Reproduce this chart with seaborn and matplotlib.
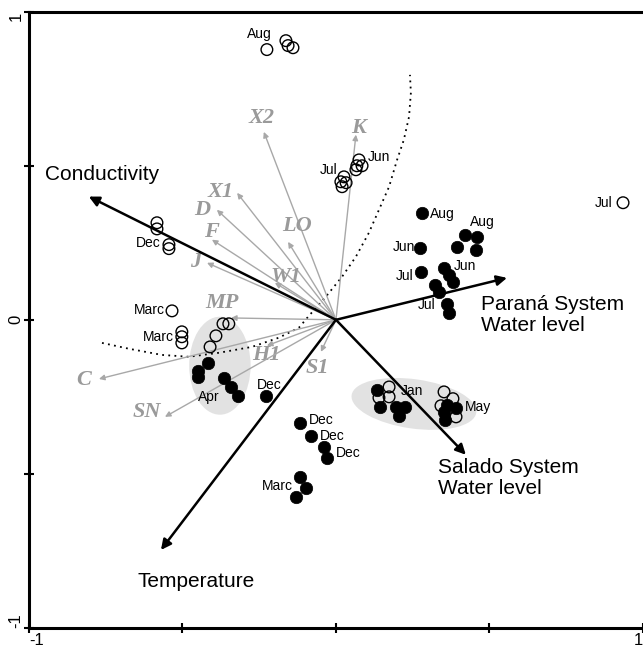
#%%                  Import libraries and prepare data                  ###

import numpy as np
import pandas as pd
import seaborn as sns
import matplotlib.pyplot as plt
from matplotlib.patches import Ellipse

# --- environmental variables (black arrows) ---
env_names = ['Conductivity', 'Paraná System\nWater level', 'Salado System\nWater level', 'Temperature']
env_x = [-0.805, 0.557, 0.423, -0.570]
env_y = [0.400, 0.136, -0.438, -0.747]

# --- species (grey arrows) ---
sp_names = ['X2', 'K', 'X1', 'D', 'F', 'J', 'LO', 'W1', 'MP', 'H1', 'S1', 'C', 'SN']
sp_x = [-0.235, 0.065, -0.322, -0.388, -0.404, -0.420, -0.156, -0.199, -0.342, -0.225, -0.049, -0.772, -0.557]
sp_y = [0.610, 0.601, 0.412, 0.357, 0.260, 0.185, 0.253, 0.120, 0.006, -0.084, -0.104, -0.192, -0.315]

# --- samples: open circles ---
open_x = [-0.225, -0.163, -0.156, -0.140,
          0.075, 0.068, 0.085, 0.065,
          0.026, 0.016, 0.033, 0.020,
          0.935,
          -0.583, -0.583, -0.544, -0.544,
          -0.534, -0.502, -0.502, -0.502,
          -0.368, -0.349, -0.391, -0.410,
          0.173, 0.140, 0.173,
          0.352, 0.381, 0.342, 0.391]
open_y = [0.877, 0.906, 0.890, 0.883,
          0.519, 0.500, 0.500, 0.487,
          0.464, 0.448, 0.445, 0.432,
          0.380,
          0.315, 0.295, 0.244, 0.231,
          0.029, -0.039, -0.055, -0.075,
          -0.013, -0.013, -0.052, -0.088,
          -0.218, -0.253, -0.250,
          -0.234, -0.256, -0.279, -0.315]

# --- samples: filled circles ---
fill_x = [-0.417, -0.450, -0.450, -0.365, -0.342, -0.319,
          -0.228,
          -0.117, -0.081, -0.039, -0.029,
          -0.117, -0.098, -0.130,
          0.134, 0.143, 0.195, 0.225, 0.205,
          0.362, 0.391, 0.352, 0.355,
          0.280, 0.274, 0.277,
          0.420, 0.459, 0.394, 0.456,
          0.352, 0.368, 0.381,
          0.322, 0.336, 0.362, 0.368]
fill_y = [-0.140, -0.166, -0.185, -0.188, -0.218, -0.247,
          -0.247,
          -0.334, -0.377, -0.412, -0.448,
          -0.510, -0.545, -0.575,
          -0.227, -0.282, -0.282, -0.282, -0.312,
          -0.276, -0.286, -0.299, -0.325,
          0.347, 0.234, 0.156,
          0.276, 0.269, 0.237, 0.227,
          0.169, 0.146, 0.123,
          0.114, 0.091, 0.052, 0.023]

# --- month labels ---
month_text = ['Aug', 'Jun', 'Jul', 'Jul', 'Dec', 'Marc', 'Marc', 'Apr', 'Dec',
              'Dec', 'Dec', 'Dec', 'Marc', 'Jan', 'May',
              'Aug', 'Jun', 'Jul', 'Aug', 'Jun', 'Jul']
month_x = [-0.248, 0.140, -0.023, 0.873, -0.612, -0.609, -0.577, -0.414, -0.218,
           -0.049, -0.013, 0.039, -0.192, 0.248, 0.463,
           0.345, 0.221, 0.225, 0.476, 0.420, 0.296]
month_y = [0.929, 0.529, 0.487, 0.380, 0.250, 0.032, -0.055, -0.250, -0.211,
           -0.325, -0.377, -0.432, -0.539, -0.230, -0.282,
           0.344, 0.237, 0.143, 0.318, 0.175, 0.049]

# --- dotted separation curve ---
curve_x = [-0.762, -0.674, -0.567, -0.479, -0.381, -0.274, -0.186, -0.121, -0.088, -0.033,
           0.020, 0.065, 0.107, 0.140, 0.173, 0.199, 0.221, 0.238, 0.244, 0.241]
curve_y = [-0.075, -0.094, -0.114, -0.120, -0.107, -0.088, -0.058, -0.026, 0.013, 0.075,
           0.140, 0.205, 0.282, 0.357, 0.432, 0.519, 0.584, 0.659, 0.737, 0.795]

# label placement (layout only)
env_lab = [(-0.762, 0.471, 'center'), (0.472, 0.016, 'left'), (0.332, -0.513, 'left'), (-0.456, -0.851, 'center')]
sp_lab = [(-0.241, 0.656), (0.075, 0.623), (-0.375, 0.416), (-0.436, 0.357), (-0.407, 0.286),
          (-0.456, 0.188), (-0.127, 0.305), (-0.163, 0.140), (-0.371, 0.055), (-0.228, -0.114),
          (-0.062, -0.156), (-0.821, -0.195), (-0.616, -0.299)]

df_open = pd.DataFrame({'x': open_x, 'y': open_y})
df_fill = pd.DataFrame({'x': fill_x, 'y': fill_y})

###########################################################
#%%                       Plot                          ###
###########################################################
sns.set_style('ticks', {'axes.edgecolor': 'black', 'text.color': 'black',
                        'xtick.color': 'black', 'ytick.color': 'black'})
plt.rcParams['font.family'] = ['Liberation Sans', 'DejaVu Sans']

fig = plt.figure(figsize=(6.43, 6.5), dpi=100)
ax = fig.add_axes([0.045, 0.034, 0.955, 0.948])

grey = '#9a9a9a'

# grey ellipses grouping samples
ax.add_patch(Ellipse((-0.378, -0.149), 0.20, 0.318, color='#e2e2e2', lw=0, zorder=0.5))
ax.add_patch(Ellipse((0.254, -0.273), 0.41, 0.16, angle=-8, color='#e2e2e2', lw=0, zorder=0.5))

# dotted curve
sns.lineplot(x=curve_x, y=curve_y, ax=ax, color='black', lw=1.3, linestyle=(0, (1, 2.4)),
             sort=False, estimator=None, zorder=1)

# species arrows
for i, name in enumerate(sp_names):
    ax.annotate('', xy=(sp_x[i], sp_y[i]), xytext=(0, 0),
                arrowprops=dict(arrowstyle='-|>', color='#a8a8a8', lw=1.0,
                                mutation_scale=8, shrinkA=0, shrinkB=0), zorder=2)
    ax.text(sp_lab[i][0], sp_lab[i][1], name, color=grey, fontsize=16, family='Liberation Serif',
            fontstyle='italic', fontweight='bold', ha='center', va='center', zorder=2)

# environmental arrows
for i, name in enumerate(env_names):
    ax.annotate('', xy=(env_x[i], env_y[i]), xytext=(0, 0),
                arrowprops=dict(arrowstyle='-|>', color='black', lw=1.8,
                                mutation_scale=15, shrinkA=0, shrinkB=0), zorder=3)
    ax.text(env_lab[i][0], env_lab[i][1], name, fontsize=15, color='black', ha=env_lab[i][2],
            va='center', linespacing=1.1, zorder=3)

# samples
sns.scatterplot(data=df_open, x='x', y='y', ax=ax, marker='o', s=70, facecolors='none',
                edgecolor='black', linewidth=1.0, zorder=4)
sns.scatterplot(data=df_fill, x='x', y='y', ax=ax, marker='o', s=80, color='black',
                edgecolor='black', linewidth=0.5, zorder=5)

for t, xx, yy in zip(month_text, month_x, month_y):
    ax.text(xx, yy, t, fontsize=10, color='black', ha='center', va='center', zorder=6)

ax.set_xlim(-1, 1)
ax.set_ylim(-1, 1)
ax.set_xlabel('')
ax.set_ylabel('')
ax.set_xticks([-1, -0.5, 0, 0.5, 1])
ax.set_xticklabels(['-1', '', '', '', '1'], fontsize=12)
xt = ax.get_xticklabels()
xt[0].set_horizontalalignment('left')
xt[-1].set_horizontalalignment('right')
ax.set_yticks([-1, -0.5, 0, 0.5, 1])
ax.set_yticklabels(['-1', '', '0', '', '1'], fontsize=12, rotation=90, va='center')
yt = ax.get_yticklabels()
yt[0].set_verticalalignment('bottom')
yt[-1].set_verticalalignment('top')
ax.tick_params(direction='inout', length=7, width=1.5, pad=0.5, colors='black')
ax.spines['right'].set_visible(False)
for s in ['left', 'top', 'bottom']:
    ax.spines[s].set_linewidth(2.2)
    ax.spines[s].set_color('black')

fig.savefig('out.png', dpi=100)
